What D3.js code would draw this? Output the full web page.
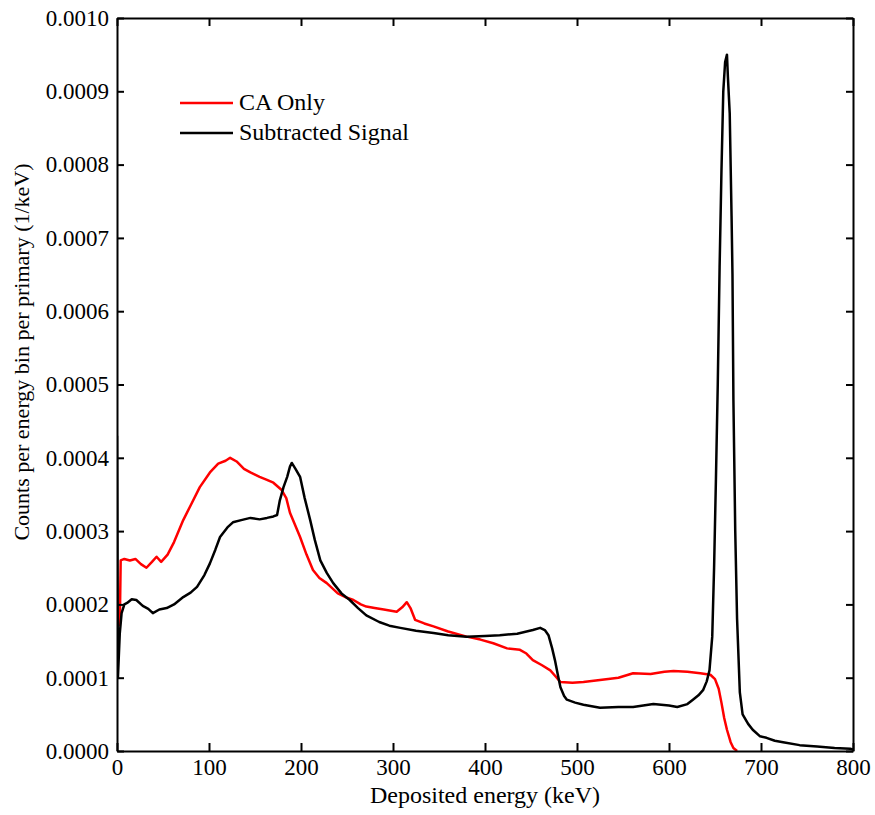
<!DOCTYPE html>
<html>
<head>
<meta charset="utf-8">
<script src="https://cdn.jsdelivr.net/npm/d3@7"></script>
<style>
body { margin: 0; background: #fff; }
svg text { font-family: "Liberation Serif", "Times New Roman", "DejaVu Serif", serif; fill: #000; }
</style>
</head>
<body>
<div class="container"></div>
<script>
// deposited energy spectra
var caEnergy = [3, 4, 8, 14, 20, 26, 32, 38, 43, 48, 55, 62, 72, 80, 90, 101, 110, 118, 123, 130, 138, 145, 155, 163, 170, 179, 184, 188, 193, 199, 206, 213, 220, 228, 240, 250, 257, 265, 271, 280, 290, 304, 310, 315, 319, 324, 334, 344, 360, 380, 395, 409, 424, 438, 445, 452, 462, 471, 478, 482, 495, 507, 525, 545, 561, 580, 595, 605, 620, 634, 645, 650, 654, 657, 660, 663, 667, 670, 674];
var caCounts = [0.00017, 0.00026, 0.000262, 0.00026, 0.000262, 0.000255, 0.00025, 0.000258, 0.000265, 0.000258, 0.000268, 0.000285, 0.000315, 0.000335, 0.00036, 0.00038, 0.000392, 0.000396, 0.0004, 0.000395, 0.000385, 0.00038, 0.000374, 0.00037, 0.000366, 0.000356, 0.000345, 0.000325, 0.00031, 0.000292, 0.000268, 0.000247, 0.000236, 0.000229, 0.000215, 0.000209, 0.000206, 0.0002, 0.000197, 0.000195, 0.000193, 0.00019, 0.000196, 0.000203, 0.000195, 0.000179, 0.000174, 0.00017, 0.000163, 0.000156, 0.000152, 0.000147, 0.00014, 0.000138, 0.000133, 0.000124, 0.000117, 0.00011, 0.0001, 0.000094, 0.000093, 0.000094, 0.000097, 0.0001, 0.000106, 0.000105, 0.000108, 0.000109, 0.000108, 0.000106, 0.000104, 0.000098, 0.000085, 0.000066, 0.000045, 0.000029, 0.000012, 0.000004, 0];

var subEnergy = [0, 1, 2, 3, 5, 8, 11, 16, 21, 28, 34, 39, 46, 54, 62, 72, 80, 87, 95, 101, 107, 112, 120, 126, 135, 145, 155, 163, 170, 174, 177, 181, 185, 188, 190, 194, 199, 204, 210, 215, 221, 228, 235, 244, 253, 262, 271, 285, 296, 308, 325, 344, 360, 380, 400, 416, 435, 452, 460, 465, 469, 473, 476, 479, 482, 486, 489, 498, 507, 525, 545, 561, 583, 600, 609, 620, 626, 632, 637, 641, 644, 647, 649, 651, 653, 655, 657, 659, 661, 663, 664, 666, 668, 669, 670, 672, 674, 677, 680, 686, 691, 699, 706, 715, 724, 742, 761, 780, 797, 800];
var subCounts = [0.00043, 0.0001, 0.00013, 0.00016, 0.000188, 0.0002, 0.000202, 0.000207, 0.000206, 0.000198, 0.000194, 0.000188, 0.000193, 0.000195, 0.0002, 0.00021, 0.000216, 0.000224, 0.00024, 0.000256, 0.000275, 0.000292, 0.000305, 0.000312, 0.000315, 0.000318, 0.000316, 0.000318, 0.00032, 0.000322, 0.000342, 0.00036, 0.000374, 0.000388, 0.000393, 0.000385, 0.000374, 0.000345, 0.000315, 0.000288, 0.00026, 0.000243, 0.000229, 0.000215, 0.000206, 0.000195, 0.000185, 0.000176, 0.000171, 0.000168, 0.000164, 0.000161, 0.000158, 0.000156, 0.000157, 0.000158, 0.00016, 0.000165, 0.000168, 0.000165, 0.000158, 0.00014, 0.000124, 0.000105, 0.000087, 0.000075, 0.00007, 0.000066, 0.000063, 0.000059, 0.00006, 0.00006, 0.000064, 0.000062, 0.00006, 0.000064, 0.00007, 0.000076, 0.000083, 0.000095, 0.00011, 0.000156, 0.00025, 0.00037, 0.0005, 0.00066, 0.00079, 0.0009, 0.00094, 0.00095, 0.00092, 0.00087, 0.00073, 0.00065, 0.00048, 0.0003, 0.00018, 0.00008, 0.00005, 0.000037, 0.000029, 0.00002, 0.000018, 0.000014, 0.000012, 0.000008, 0.000006, 0.000004, 0.000003, 0.000002];

var xTicks = [0, 100, 200, 300, 400, 500, 600, 700, 800];
var yTicks = [0, 0.0001, 0.0002, 0.0003, 0.0004, 0.0005, 0.0006, 0.0007, 0.0008, 0.0009, 0.0010];

var seriesNames = ["CA Only", "Subtracted Signal"];
var seriesColors = ["#ff0000", "#000000"];

var opts = {
	width: 875,
	height: 815,
	left: 117,
	right: 853,
	top: 18,
	bottom: 751,
	font: "'Liberation Serif', 'Times New Roman', 'DejaVu Serif', serif"
};

var svg = d3.select(".container")
.append("svg")
.attr("width", opts.width)
.attr("height", opts.height);

svg.append("rect").attr("width", opts.width).attr("height", opts.height).attr("fill", "#fff");

var x = d3.scaleLinear().domain([0, 800]).range([opts.left, opts.right]);
var y = d3.scaleLinear().domain([0, 0.001]).range([opts.bottom, opts.top]);

svg.append("clipPath").attr("id", "plotClip")
.append("rect")
.attr("x", opts.left).attr("y", opts.top)
.attr("width", opts.right - opts.left).attr("height", opts.bottom - opts.top);

var line = d3.line()
.x(function(d){return x(d[0]);})
.y(function(d){return y(d[1]);});

var caData = caEnergy.map(function(e, i){return [e, caCounts[i]];});
var subData = subEnergy.map(function(e, i){return [e, subCounts[i]];});

var curves = svg.append("g").attr("clip-path", "url(#plotClip)");
curves.append("path").datum(caData)
.attr("d", line).attr("fill", "none")
.attr("stroke", seriesColors[0]).attr("stroke-width", 2.5).attr("stroke-linejoin", "round");
curves.append("path").datum(subData)
.attr("d", line).attr("fill", "none")
.attr("stroke", seriesColors[1]).attr("stroke-width", 2.5).attr("stroke-linejoin", "round");

// axes, ticks pointing in
var fmt = d3.format(".4f");

var axes = [];
axes.push(svg.append("g")
.attr("transform", "translate(0," + opts.bottom + ")")
.call(d3.axisBottom(x).tickValues(xTicks).tickSizeInner(-8).tickSizeOuter(0).tickPadding(8)));
axes.push(svg.append("g")
.attr("transform", "translate(0," + opts.top + ")")
.call(d3.axisTop(x).tickValues(xTicks).tickSizeInner(-8).tickSizeOuter(0).tickFormat("")));
axes.push(svg.append("g")
.attr("transform", "translate(" + opts.left + ",0)")
.call(d3.axisLeft(y).tickValues(yTicks).tickSizeInner(-7).tickSizeOuter(0).tickPadding(8).tickFormat(fmt)));
axes.push(svg.append("g")
.attr("transform", "translate(" + opts.right + ",0)")
.call(d3.axisRight(y).tickValues(yTicks).tickSizeInner(-7).tickSizeOuter(0).tickFormat("")));

axes.forEach(function(a){
	a.attr("font-family", opts.font).attr("font-size", 24);
});

svg.selectAll(".domain").attr("stroke", "#000").attr("stroke-width", 2);
svg.selectAll(".tick line").attr("stroke", "#000").attr("stroke-width", 2);
svg.selectAll(".tick text").style("font-family", opts.font).style("font-size", "23px");

// axis titles
svg.append("text")
.attr("x", (opts.left + opts.right) / 2)
.attr("y", 803)
.attr("text-anchor", "middle")
.style("font-family", opts.font)
.style("font-size", "24px")
.text("Deposited energy (keV)");

svg.append("text")
.attr("transform", "translate(29,352) rotate(-90)")
.attr("text-anchor", "middle")
.style("font-family", opts.font)
.style("font-size", "22px")
.text("Counts per energy bin per primary (1/keV)");

// legend
var legendItems = svg.append("g").selectAll("g").data(seriesNames).enter().append("g")
.attr("transform", function(d, i){return "translate(180," + (103 + i * 30) + ")";});
legendItems.append("line")
.attr("x1", 0).attr("x2", 53).attr("y1", 0).attr("y2", 0)
.attr("stroke", function(d, i){return seriesColors[i];})
.attr("stroke-width", 2.5);
legendItems.append("text")
.attr("x", 59).attr("y", 7)
.style("font-family", opts.font)
.style("font-size", "24px")
.text(function(d){return d;});
</script>
</body>
</html>
